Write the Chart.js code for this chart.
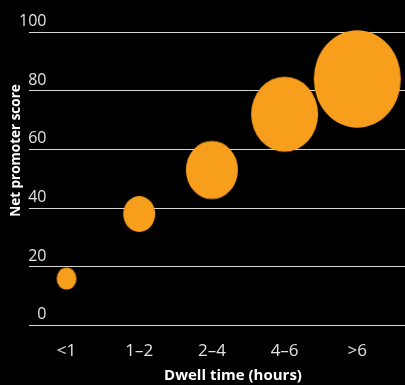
<!DOCTYPE html>
<html>
<head>
<meta charset="utf-8">
<script src="https://cdn.jsdelivr.net/npm/chart.js@4.4.1/dist/chart.umd.min.js"></script>
<style>
  html, body { margin: 0; padding: 0; background: #000; }
  #wrap { width: 405px; height: 385px; }
</style>
</head>
<body>
<div id="wrap"><canvas id="chart" width="405" height="385"></canvas></div>
<script>
// Dwell-time buckets and their net promoter scores
const categories = ['<1', '1–2', '2–4', '4–6', '>6'];
const npsValues = [16, 38, 53, 72, 84];
// Horizontal bubble radius in pixels for each bucket
const bubbleRadii = [9.9, 16, 26, 33.5, 43.5];
const yTicks = [0, 20, 40, 60, 80, 100];
const xTitle = 'Dwell time (hours)';
const yTitle = 'Net promoter score';

const ORANGE = '#F89E1D';
const TEXT = '#e2e2e2';
const FONT = "'Open Sans', 'Noto Sans', sans-serif";
const STRETCH = 1.12; // bubbles are slightly taller than wide

// Sprite used as the point style: an ellipse sized from the bubble radius
function ellipseSprite(r) {
  const w = Math.ceil(r * 2) + 2;
  const h = Math.ceil(r * 2 * STRETCH) + 2;
  const c = document.createElement('canvas');
  c.width = w;
  c.height = h;
  const g = c.getContext('2d');
  g.fillStyle = ORANGE;
  g.beginPath();
  g.ellipse(w / 2, h / 2, r, r * STRETCH, 0, 0, Math.PI * 2);
  g.fill();
  return c;
}

const points = categories.map((c, i) => ({ x: i, y: npsValues[i], r: bubbleRadii[i] }));
const sprites = bubbleRadii.map(ellipseSprite);

// Axis titles, placed off-centre the way the house style sets them
const axisTitles = {
  id: 'axisTitles',
  afterDraw(chart) {
    const ctx = chart.ctx;
    ctx.save();
    ctx.fillStyle = '#ffffff';
    ctx.textAlign = 'center';
    ctx.textBaseline = 'middle';
    ctx.font = "bold 15px " + FONT;
    ctx.fillText(xTitle, 233, 376);
    ctx.translate(16, 150.5);
    ctx.rotate(-Math.PI / 2);
    ctx.font = "bold 13.5px " + FONT;
    ctx.fillText(yTitle, 0, 0);
    ctx.restore();
  }
};

Chart.defaults.font.family = FONT;

new Chart(document.getElementById('chart'), {
  type: 'bubble',
  data: {
    datasets: [{
      data: points,
      backgroundColor: ORANGE,
      borderWidth: 0,
      clip: false,
      pointStyle: (ctx) => sprites[ctx.dataIndex]
    }]
  },
  options: {
    responsive: false,
    animation: false,
    layout: { autoPadding: false, padding: { left: 29, top: 32, right: 0, bottom: 9 } },
    plugins: {
      legend: { display: false },
      tooltip: { enabled: false }
    },
    scales: {
      x: {
        type: 'linear',
        min: -0.516,
        max: 4.656,
        afterBuildTicks: (scale) => { scale.ticks = categories.map((_, i) => ({ value: i })); },
        ticks: {
          callback: (v) => categories[v],
          color: TEXT,
          font: { size: 17 },
          padding: 15,
          autoSkip: false,
          maxRotation: 0
        },
        grid: { display: false, drawTicks: false },
        border: { display: false }
      },
      y: {
        min: 0,
        max: 100,
        afterBuildTicks: (scale) => { scale.ticks = yTicks.map((v) => ({ value: v })); },
        // labels sit above their grid lines, right-aligned just inside the plot
        afterFit: (scale) => { scale.width = 0; },
        ticks: {
          mirror: true,
          crossAlign: 'far',
          padding: -10,
          labelOffset: -10.7,
          color: TEXT,
          font: { size: 16 }
        },
        grid: { color: '#d6d6d6', lineWidth: 1, drawTicks: false },
        border: { display: false }
      }
    }
  },
  plugins: [axisTitles]
});
</script>
</body>
</html>
